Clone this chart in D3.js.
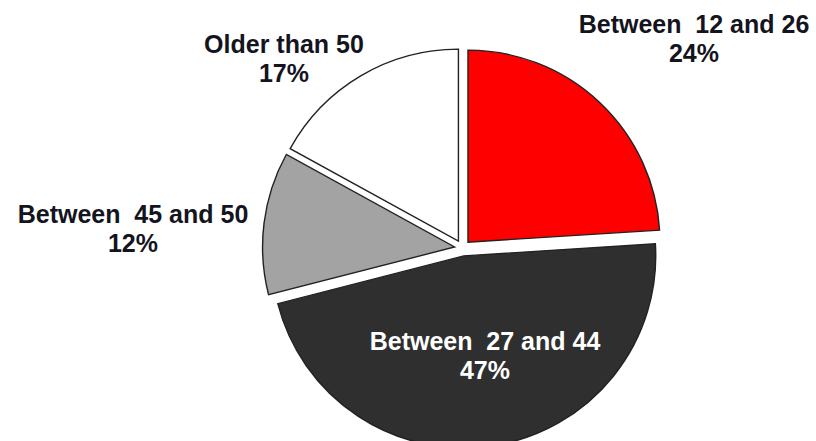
<!DOCTYPE html>
<html>
<head>
<meta charset="utf-8">
<script src="https://cdn.jsdelivr.net/npm/d3@7"></script>
<style>
  html, body { margin: 0; padding: 0; background: #fff; }
  svg { display: block; }
  text { font-family: "Liberation Sans", Arial, sans-serif; font-weight: bold; white-space: pre; }
</style>
</head>
<body>
<svg id="chart" width="816" height="441"></svg>
<script>
// Data
const categories = ["Between  12 and 26", "Between  27 and 44", "Between  45 and 50", "Older than 50"];
const values = [24, 47, 12, 17];
const percentLabels = ["24%", "47%", "12%", "17%"];
const colors = ["#ff0000", "#2f2f2f", "#a3a3a3", "#ffffff"];
const labelColors = ["#14141e", "#ffffff", "#14141e", "#14141e"];

// Layout
const W = 816, H = 441;
const cx = 462.5, cy = 248, R = 192, explode = 8;
const labelPos = [[694, 33], [485, 350], [133, 223], [284, 53]];
const lineGap = 29;

const svg = d3.select("#chart");
const pie = d3.pie().sort(null).value(d => d)(values);
const arc = d3.arc().innerRadius(0).outerRadius(R);

const g = svg.append("g").attr("transform", `translate(${cx},${cy})`);
g.selectAll("path").data(pie).join("path")
  .attr("d", arc)
  .attr("transform", d => {
    const a = (d.startAngle + d.endAngle) / 2;
    return `translate(${Math.sin(a) * explode},${-Math.cos(a) * explode})`;
  })
  .attr("fill", (d, i) => colors[i])
  .attr("stroke", "#222")
  .attr("stroke-width", 1.4)
  .attr("stroke-linejoin", "miter");

const labels = svg.selectAll("g.lbl").data(categories).join("g").attr("class", "lbl");
labels.append("text")
  .attr("x", (d, i) => labelPos[i][0])
  .attr("y", (d, i) => labelPos[i][1])
  .attr("text-anchor", "middle")
  .attr("font-size", 25)
  .attr("fill", (d, i) => labelColors[i])
  .text(d => d);
labels.append("text")
  .attr("x", (d, i) => labelPos[i][0])
  .attr("y", (d, i) => labelPos[i][1] + lineGap)
  .attr("text-anchor", "middle")
  .attr("font-size", 25)
  .attr("fill", (d, i) => labelColors[i])
  .text((d, i) => percentLabels[i]);
</script>
</body>
</html>
